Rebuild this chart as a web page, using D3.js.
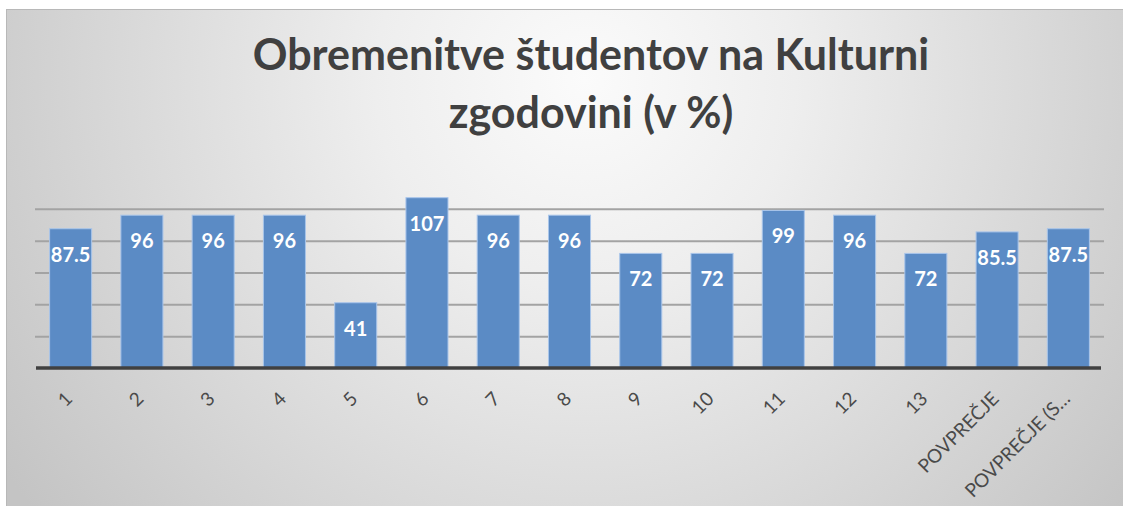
<!DOCTYPE html>
<html>
<head>
<meta charset="utf-8">
<script src="https://cdn.jsdelivr.net/npm/d3@7"></script>
<style>
  body { margin: 0; background: #fff; }
  svg { display: block; }
</style>
</head>
<body>
<div id="chart"></div>
<script>
// chart data
const categories = ["1", "2", "3", "4", "5", "6", "7", "8", "9", "10", "11", "12", "13", "POVPREČJE", "POVPREČJE (S…"];
const values = [87.5, 96, 96, 96, 41, 107, 96, 96, 72, 72, 99, 96, 72, 85.5, 87.5];
const gridTicks = [20, 40, 60, 80, 100];
const titleLines = ["Obremenitve študentov na Kulturni", "zgodovini (v %)"];

const width = 1123, height = 506;
const margin = { top: 177, left: 35, right: 19, bottom: 138 };
const innerW = width - margin.left - margin.right;
const innerH = height - margin.top - margin.bottom;
const font = "Lato, 'Open Sans', sans-serif";

const svg = d3.select("#chart").append("svg")
  .attr("width", width)
  .attr("height", height);

const defs = svg.append("defs");
const bg = defs.append("radialGradient")
  .attr("id", "bg")
  .attr("gradientUnits", "userSpaceOnUse")
  .attr("cx", 585).attr("cy", 80).attr("r", 700);
bg.append("stop").attr("offset", "0%").attr("stop-color", "#fbfbfb");
bg.append("stop").attr("offset", "30%").attr("stop-color", "#eeeeee");
bg.append("stop").attr("offset", "100%").attr("stop-color", "#c4c4c4");

svg.append("rect")
  .attr("x", 6).attr("y", 9)
  .attr("width", width - 6).attr("height", height - 9)
  .attr("fill", "url(#bg)");
svg.append("line")
  .attr("x1", 6).attr("x2", width).attr("y1", 9.5).attr("y2", 9.5)
  .attr("stroke", "#b8b8b8");
svg.append("line")
  .attr("x1", 6.5).attr("x2", 6.5).attr("y1", 9).attr("y2", height)
  .attr("stroke", "#b8b8b8");

// title
const title = svg.append("text")
  .attr("text-anchor", "middle")
  .attr("font-family", font)
  .attr("font-weight", "bold")
  .attr("font-size", 43)
  .attr("fill", "#404040");
titleLines.forEach((t, i) => {
  title.append("tspan")
    .attr("x", 591)
    .attr("y", 70 + i * 58)
    .text(t);
});

const g = svg.append("g")
  .attr("transform", `translate(${margin.left},${margin.top})`);

const x = d3.scaleBand()
  .domain(categories)
  .range([0, innerW])
  .paddingInner(0.41)
  .paddingOuter(0.205);

const y = d3.scaleLinear()
  .domain([0, 120])
  .range([innerH, 0]);

// gridlines
g.append("g")
  .attr("class", "grid")
  .call(d3.axisLeft(y).tickValues(gridTicks).tickSize(-innerW).tickFormat(""))
  .call(s => s.select(".domain").remove())
  .call(s => s.selectAll("line").attr("stroke", "#a3a3a3").attr("stroke-width", 2));

// bars
g.selectAll(".bar")
  .data(values)
  .enter()
  .append("rect")
  .attr("class", "bar")
  .attr("x", (d, i) => x(categories[i]))
  .attr("y", d => y(d))
  .attr("width", x.bandwidth())
  .attr("height", d => innerH - y(d))
  .attr("fill", "#5b8bc5")
  .attr("stroke", "#a9c5ea")
  .attr("stroke-width", 1);

// value labels
g.selectAll(".val")
  .data(values)
  .enter()
  .append("text")
  .attr("class", "val")
  .attr("x", (d, i) => x(categories[i]) + x.bandwidth() / 2)
  .attr("y", d => y(d) + 33)
  .attr("text-anchor", "middle")
  .attr("font-family", font)
  .attr("font-weight", "bold")
  .attr("font-size", 20)
  .attr("fill", "#ffffff")
  .text(d => d);

// x axis
const xAxis = g.append("g")
  .attr("transform", `translate(0,${innerH})`)
  .call(d3.axisBottom(x).tickSize(0).tickPadding(0));
xAxis.select(".domain").remove();
g.append("line")
  .attr("x1", 1).attr("x2", innerW - 3)
  .attr("y1", innerH).attr("y2", innerH)
  .attr("stroke", "#404040")
  .attr("stroke-width", 3.5);
xAxis.selectAll("text")
  .attr("font-family", font)
  .attr("font-size", 19)
  .attr("fill", "#4a4a4a")
  .attr("text-anchor", "end")
  .attr("dy", 0)
  .attr("transform", "translate(3,32) rotate(-45)");
</script>
</body>
</html>
